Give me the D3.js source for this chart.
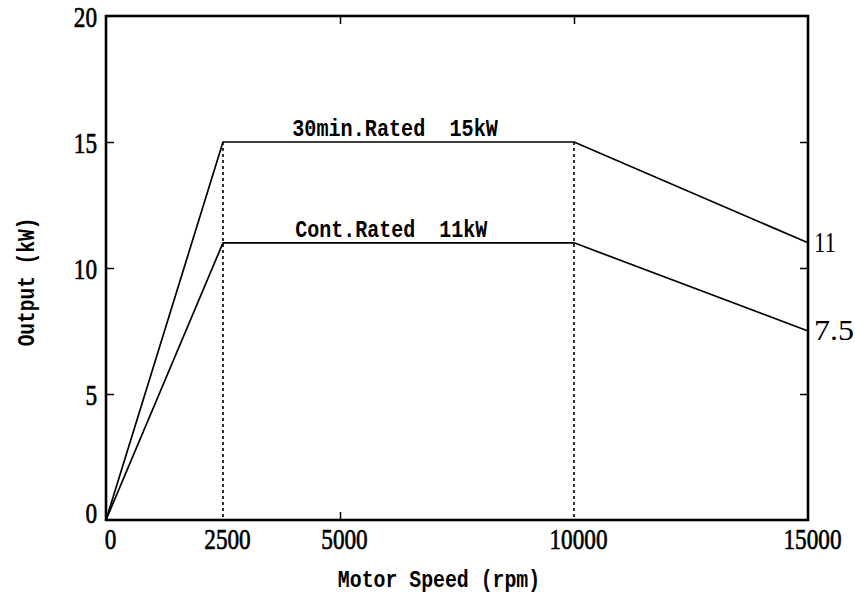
<!DOCTYPE html>
<html>
<head>
<meta charset="utf-8">
<script src="https://cdn.jsdelivr.net/npm/d3@7/dist/d3.min.js"></script>
<style>
  body { margin: 0; background: #fff; }
  .num { font-family: "Liberation Serif", serif; font-size: 29px; fill: #000; }
  .bold { stroke: #000; stroke-width: 0.7px; }
  .mono { font-family: "Liberation Mono", monospace; font-weight: bold; font-size: 24px; fill: #000; white-space: pre; }
</style>
</head>
<body>
<script>
// speed break points (rpm) and output (kW)
var speeds = [0, 2500, 10000, 15000];
var rated30 = [0, 15, 15, 11];
var ratedCont = [0, 11, 11, 7.5];
var xTickVals = [0, 2500, 5000, 10000, 15000];
var yTickVals = [0, 5, 10, 15, 20];
var dashAt = [2500, 10000];
var endLabels = ["11", "7.5"];
var curveNames = ["30min.Rated  15kW", "Cont.Rated  11kW"];

var width = 855, height = 598;
var charW = 11.6;   // digit width of condensed numerals

var x = d3.scaleLinear().domain([0, 15000]).range([106, 808]);
var y = d3.scaleLinear().domain([0, 20]).range([520, 16]);

var svg = d3.select("body").append("svg")
    .attr("width", width)
    .attr("height", height);

// condense text to match the printed look
function squeeze(sel, w) {
  sel.attr("textLength", function() { return this.textContent.length * w; })
     .attr("lengthAdjust", "spacingAndGlyphs");
}

// left axis
var gL = svg.append("g")
    .attr("transform", "translate(" + x(0) + ",0)")
    .call(d3.axisLeft(y).tickValues(yTickVals).tickSizeInner(-8).tickSizeOuter(0).tickPadding(9));
gL.select(".domain").remove();
gL.selectAll("text").attr("class", "num bold").attr("font-size", null).attr("font-family", null)
  .attr("dy", "0.36em").call(squeeze, charW);
gL.selectAll(".tick").filter(function(d) { return d == 0; }).select("text").attr("dy", "0.1em");
gL.selectAll(".tick").filter(function(d) { return d == 0 || d == 20; }).select("line").remove();

// right axis - ticks only
var gR = svg.append("g")
    .attr("transform", "translate(" + x(15000) + ",0)")
    .call(d3.axisRight(y).tickValues([5, 10, 15]).tickSizeInner(-8).tickSizeOuter(0).tickFormat(""));
gR.select(".domain").remove();

// bottom axis
var gB = svg.append("g")
    .attr("transform", "translate(0," + y(0) + ")")
    .call(d3.axisBottom(x).tickValues(xTickVals).tickSizeInner(-8).tickSizeOuter(0).tickPadding(8).tickFormat(d3.format("d")));
gB.select(".domain").remove();
gB.selectAll(".tick").filter(function(d) { return d != 5000; }).select("line").remove();
gB.selectAll("text").attr("class", "num bold").attr("font-size", null).attr("font-family", null)
  .attr("x", 4).call(squeeze, charW);

// top axis - ticks only
var gT = svg.append("g")
    .attr("transform", "translate(0," + y(20) + ")")
    .call(d3.axisTop(x).tickValues([5000, 10000]).tickSizeInner(-8).tickSizeOuter(0).tickFormat(""));
gT.select(".domain").remove();

svg.selectAll(".tick line").attr("stroke", "#000").attr("stroke-width", 1.5);

// dashed guide lines
svg.selectAll("line.guide")
    .data(dashAt)
    .enter().append("line")
    .attr("class", "guide")
    .attr("x1", function(d) { return x(d); })
    .attr("x2", function(d) { return x(d); })
    .attr("y1", y(15))
    .attr("y2", y(0))
    .attr("stroke", "#000")
    .attr("stroke-width", 1.6)
    .attr("stroke-dasharray", "3,3");

// frame
svg.append("rect")
    .attr("x", x(0)).attr("y", y(20))
    .attr("width", x(15000) - x(0)).attr("height", y(0) - y(20))
    .attr("fill", "none").attr("stroke", "#000").attr("stroke-width", 2.6);

// curves
var line = d3.line()
    .x(function(d) { return x(d[0]); })
    .y(function(d) { return y(d[1]); });

[rated30, ratedCont].forEach(function(vals) {
  svg.append("path")
      .datum(speeds.map(function(s, i) { return [s, vals[i]]; }))
      .attr("d", line)
      .attr("fill", "none")
      .attr("stroke", "#000")
      .attr("stroke-width", 1.7)
      .attr("stroke-linejoin", "round");
});

// curve names
svg.append("text").attr("class", "mono")
    .attr("x", x(4000) - 1).attr("y", y(15) - 6)
    .text(curveNames[0]).call(squeeze, 12.1);
svg.append("text").attr("class", "mono")
    .attr("x", x(4000) + 2).attr("y", y(11) - 6)
    .text(curveNames[1]).call(squeeze, 12.0);

// end values on the right
svg.selectAll("text.endlab")
    .data([rated30[3], ratedCont[3]])
    .enter().append("text")
    .attr("class", "num endlab")
    .attr("x", x(15000) + 6)
    .attr("y", function(d) { return y(d); })
    .attr("dy", "0.3em")
    .text(function(d, i) { return endLabels[i]; })
    .attr("textLength", function(d, i) { return i == 0 ? 22 : 40; })
    .attr("lengthAdjust", "spacingAndGlyphs");

// axis titles
svg.append("text").attr("class", "mono")
    .attr("transform", "translate(34," + 282 + ") rotate(-90)")
    .attr("text-anchor", "middle")
    .text("Output (kW)").call(squeeze, 11.7);

svg.append("text").attr("class", "mono")
    .attr("x", 439).attr("y", 587)
    .attr("text-anchor", "middle")
    .text("Motor Speed (rpm)").call(squeeze, 11.9);
</script>
</body>
</html>
